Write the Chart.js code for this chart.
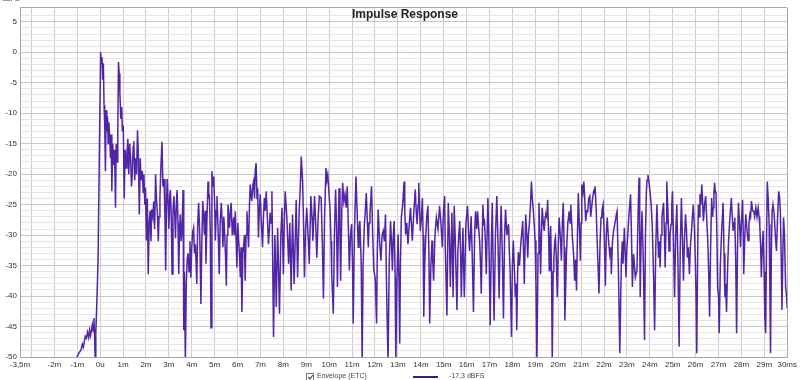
<!DOCTYPE html>
<html>
<head>
<meta charset="utf-8">
<title>Impulse Response</title>
<script src="https://cdn.jsdelivr.net/npm/chart.js@4.4.1/dist/chart.umd.min.js"></script>
<style>
  body { margin: 0; background: #fff; font-family: "Liberation Sans", Arial, sans-serif; }
  #wrap { position: relative; width: 800px; height: 380px; overflow: hidden; }
  #title { position: absolute; left: 352px; top: 7px; font-size: 12px; font-weight: bold; color: #222; }
  #unit { position: absolute; left: 2px; top: -5px; font-size: 7px; color: #444; }
  #legend { position: absolute; top: 372px; left: 0; width: 800px; height: 10px; font-size: 7px; color: #444; }
  #legend .box { position: absolute; left: 306px; top: 1px; width: 6px; height: 6px; border: 1px solid #777; background: #fff; }
  #legend .box::after { content: ""; position: absolute; left: 2px; top: 0px; width: 2px; height: 4px;
    border-right: 1px solid #333; border-bottom: 1px solid #333; transform: rotate(40deg); }
  #legend .lbl { position: absolute; left: 317px; top: 0; }
  #legend .swatch { position: absolute; left: 413px; top: 4px; width: 25px; height: 2px; background: #3c1a86; }
  #legend .val { position: absolute; left: 449px; top: 0; }
</style>
</head>
<body>
<div id="wrap">
  <canvas id="irChart" width="800" height="380"></canvas>
  <div id="title">Impulse Response</div>
  <div id="unit">dBFS</div>
  <div id="legend">
    <span class="box"></span><span class="lbl">Envelope (ETC)</span>
    <span class="swatch"></span><span class="val">-17,3 dBFS</span>
  </div>
</div>
<script>
// time in ms, level in dBFS
const preTimes = [-1.05, -1.01, -0.92, -0.84, -0.78, -0.74, -0.70, -0.65, -0.60, -0.55,
  -0.50, -0.46, -0.42, -0.38, -0.34, -0.30, -0.27, -0.24, -0.22, -0.19,
  -0.16, -0.12, -0.09];
const preLevels = [-51, -50, -49.3, -48.9, -47.9, -48.4, -47.7, -46.6, -46.9, -45.9,
  -46.8, -45.6, -46.5, -45.6, -44.7, -45.8, -43.6, -47, -50, -46,
  -42.8, -38, -33.7];

const earlyTimes = [0.02, 0.05, 0.08, 0.11, 0.14, 0.17, 0.20, 0.23, 0.26, 0.29,
  0.32, 0.35, 0.38, 0.42, 0.45, 0.48, 0.51, 0.55, 0.59, 0.63,
  0.67, 0.70, 0.74, 0.77, 0.80, 0.83, 0.86, 0.90, 0.94, 0.97,
  1.01, 1.05, 1.09, 1.13, 1.17, 1.21, 1.25, 1.29, 1.33, 1.37,
  1.40, 1.44, 1.47, 1.51, 1.55, 1.59, 1.63, 1.67, 1.71, 1.75,
  1.79, 1.84, 1.88, 1.91, 1.95, 1.98, 2.02, 2.06, 2.10, 2.14,
  2.18, 2.22, 2.25, 2.30, 2.34, 2.38, 2.42, 2.46, 2.50, 2.54,
  2.57, 2.61, 2.65, 2.70, 2.74, 2.79, 2.83, 2.86, 2.90, 2.93,
  2.97, 3.00, 3.04, 3.07, 3.11, 3.14, 3.18, 3.22, 3.26, 3.29,
  3.33, 3.36, 3.40, 3.43, 3.47, 3.50, 3.54, 3.58, 3.62, 3.65,
  3.68, 3.72, 3.76, 3.80, 3.84, 3.88, 3.92, 3.96, 4.00, 4.04];
const earlyLevels = [0, -1.8, -0.8, -4.5, -1.8, -8.7, -12, -19.5, -9.5, -13,
  -10.5, -15, -11.5, -14, -17.4, -13.5, -22.8, -15, -18.5, -16,
  -25.5, -15, -18, -13, -1.6, -3.5, -6.5, -10.9, -9, -13,
  -12, -24, -16, -19, -16.5, -14.2, -20, -15, -17.4, -22,
  -20.3, -15.5, -14.6, -21, -17.4, -20, -12.8, -17, -26.6, -17.4,
  -21, -19.5, -23, -20, -25, -22.2, -30.9, -24, -36.4, -28,
  -26, -31, -25.8, -27, -24.5, -29, -20, -24, -26.5, -31,
  -27, -24, -19, -14.7, -22, -20.8, -27, -35.8, -24, -20.8,
  -25, -29, -23.5, -22.6, -28, -36.4, -26, -23.6, -27, -30.5,
  -24.5, -22.6, -28, -36.4, -29, -26.6, -31, -28.7, -22.6, -45.6,
  -36, -51, -38, -34, -33, -36, -31, -37, -32, -29.5];

const midTimes = [4.08, 4.12, 4.16, 4.22, 4.26, 4.30, 4.35, 4.40, 4.44, 4.48,
  4.52, 4.55, 4.59, 4.62, 4.66, 4.71, 4.74, 4.77, 4.81, 4.84,
  4.88, 4.92, 4.96, 5.00, 5.03, 5.07, 5.10, 5.15, 5.20, 5.24,
  5.29, 5.33, 5.36, 5.40, 5.43, 5.47, 5.51, 5.54, 5.58, 5.62,
  5.65, 5.69, 5.72, 5.77, 5.83, 5.86, 5.90, 5.94, 5.97, 6.01,
  6.04, 6.08, 6.12, 6.15, 6.19, 6.23, 6.26, 6.30, 6.33, 6.37,
  6.41, 6.44, 6.48, 6.52, 6.55, 6.59, 6.62, 6.66, 6.70, 6.74,
  6.77, 6.81, 6.85, 6.88, 6.91, 6.95, 6.99, 7.04, 7.09, 7.13,
  7.17, 7.21, 7.25, 7.30, 7.35, 7.39, 7.42, 7.46];
const midLevels = [-28.8, -33, -31.5, -38, -28, -24.7, -30, -41.3, -31, -24.4,
  -27, -29.9, -26, -34.7, -28, -21.2, -24, -23.3, -30, -45.2,
  -19.5, -22, -20.4, -25, -30.9, -26, -23.6, -29, -36.4, -28,
  -24.7, -28, -32, -27, -29.3, -33, -38.3, -30, -25, -27,
  -28.8, -26, -24.7, -30, -27.1, -30, -26.1, -31, -35.3, -28,
  -30.4, -33, -36.9, -32, -42.6, -33, -32, -30, -37.5, -30,
  -26.1, -29, -32, -25, -21.7, -23.5, -24.4, -22, -21.2, -24,
  -19.5, -18.2, -24, -22.3, -30.4, -26, -23.3, -28, -32, -27,
  -23.9, -26, -22.8, -27, -31.5, -29, -26.3, -28];

const lateTimes = [7.50, 7.57, 7.63, 7.69, 7.75, 7.83, 7.89, 7.94, 8.00, 8.04,
  8.08, 8.15, 8.23, 8.28, 8.34, 8.40, 8.47, 8.56, 8.62, 8.69,
  8.74, 8.78, 8.84, 8.88, 8.92, 8.97, 9.02, 9.08, 9.13, 9.20,
  9.25, 9.29, 9.36, 9.41, 9.46, 9.52, 9.57, 9.65, 9.70, 9.75,
  9.80, 9.86, 9.90, 9.94, 9.99, 10.04, 10.08, 10.11, 10.18, 10.23,
  10.28, 10.32, 10.36, 10.43, 10.47, 10.50, 10.55, 10.59, 10.64, 10.69,
  10.74, 10.79, 10.84, 10.88, 10.93, 10.98, 11.02, 11.05, 11.10, 11.17,
  11.22, 11.27, 11.30, 11.34, 11.40, 11.44, 11.48, 11.53, 11.58, 11.62,
  11.66, 11.71, 11.74, 11.78, 11.82, 11.85, 11.90, 11.95, 12.01, 12.07,
  12.10, 12.14, 12.20, 12.26, 12.31, 12.36, 12.41, 12.46, 12.50, 12.57,
  12.62, 12.68, 12.72, 12.76, 12.80, 12.84, 12.88, 12.91, 12.96, 13.01,
  13.05, 13.08, 13.11, 13.15, 13.21, 13.27, 13.30, 13.34, 13.39, 13.44,
  13.50, 13.55, 13.59, 13.63, 13.70, 13.76, 13.80, 13.84, 13.88, 13.91,
  13.95, 13.98, 14.03, 14.07, 14.10, 14.13, 14.17, 14.21, 14.26, 14.31,
  14.35, 14.39, 14.44, 14.49, 14.52, 14.56, 14.62, 14.68, 14.75, 14.82,
  14.88, 14.94, 14.99];
const lateLevels = [-22.8, -46.7, -30, -41.8, -28.8, -42.9, -30, -25.5, -36.4, -28,
  -22.8, -27, -34.7, -28, -39.1, -26.6, -38, -24.2, -36.9, -26.1,
  -22, -17.1, -21.2, -28, -36.9, -29, -25.5, -30, -34.7, -23.6,
  -27, -30.9, -23.6, -28, -33.7, -27, -23.6, -23.9, -31, -40.4,
  -27, -19, -21, -20.1, -23, -26.1, -31, -36.4, -42.9, -30,
  -22.5, -28, -38.5, -22.3, -30, -37.5, -26, -21.4, -24.5, -23.3,
  -25.5, -22, -29, -35.8, -30, -28.2, -35, -44.5, -30, -20.4,
  -26, -32, -29, -27.7, -35, -51, -35, -28.8, -26, -23.1,
  -27, -32, -28, -26.6, -24, -22, -30, -35.8, -37, -44.5,
  -33, -25.8, -31, -34.2, -30, -29.3, -31, -26.6, -37.5, -51,
  -35, -27.7, -31, -35.8, -30, -27.7, -37, -51, -37, -29.9,
  -38, -47.8, -35, -27.1, -25, -21.2, -26, -29.9, -28, -31.5,
  -28, -25.5, -28, -30.9, -26, -22.5, -26, -28.2, -25, -21.4,
  -26, -29.3, -27, -23.9, -30, -43.4, -35, -30.9, -27, -25.2,
  -32, -44.5, -35, -30.9, -34, -37.5, -30, -27.1, -29, -25.2,
  -28, -32, -26];

const tailTimes = [15.04, 15.07, 15.14, 15.20, 15.25, 15.29, 15.36, 15.41, 15.46, 15.50,
  15.54, 15.58, 15.62, 15.66, 15.70, 15.74, 15.77, 15.84, 15.90, 15.97,
  16.04, 16.09, 16.13, 16.20, 16.25, 16.30, 16.35, 16.39, 16.44, 16.48,
  16.53, 16.57, 16.61, 16.64, 16.71, 16.75, 16.78, 16.82, 16.86, 16.93,
  16.98, 17.03, 17.08, 17.12, 17.16, 17.20, 17.26, 17.32, 17.37, 17.42,
  17.47, 17.51, 17.56, 17.61, 17.66, 17.70, 17.76, 17.83, 17.87, 17.90,
  17.96, 18.00, 18.04, 18.09, 18.13, 18.16, 18.19, 18.23, 18.26, 18.31,
  18.36, 18.40, 18.45, 18.49, 18.52, 18.58, 18.63, 18.67, 18.70, 18.74,
  18.79, 18.83, 18.87, 18.91, 18.95, 18.99, 19.03, 19.07, 19.12, 19.16,
  19.20, 19.23, 19.27, 19.30, 19.35, 19.39, 19.43, 19.46, 19.50, 19.54,
  19.58, 19.61, 19.64, 19.67, 19.71, 19.74, 19.78, 19.81, 19.85, 19.88,
  19.92, 19.96, 20.00, 20.04, 20.09, 20.14, 20.18, 20.22, 20.26, 20.29,
  20.33, 20.36, 20.42, 20.48, 20.52, 20.55, 20.59, 20.62, 20.67, 20.72,
  20.76, 20.80, 20.84, 20.88, 20.92, 20.97, 21.00, 21.03, 21.08, 21.12,
  21.16, 21.20, 21.25, 21.29, 21.33, 21.38, 21.42, 21.46, 21.50, 21.55,
  21.58, 21.61, 21.66, 21.70, 21.74, 21.78, 21.83, 21.87, 21.91, 21.96,
  22.01, 22.06, 22.10, 22.14, 22.20, 22.25, 22.29, 22.32, 22.37, 22.42,
  22.48, 22.54];
const tailLevels = [-23.6, -32, -43.2, -24.7, -30, -38.5, -26.3, -40.2, -25.2, -30,
  -36.4, -42.3, -32.6, -30, -27.7, -33, -40.2, -28.8, -40.2, -28.2,
  -25.2, -30, -32.6, -26.9, -34, -42.6, -30, -26.1, -29, -26.1,
  -29, -30.9, -35, -39.6, -25, -28, -27.7, -31, -36.4, -23.9,
  -32, -44.8, -32, -24.7, -35, -44, -30, -23.6, -31, -40.4,
  -30, -25.2, -33, -43.7, -30, -25.8, -30, -28.2, -33, -35.8,
  -46.7, -35, -30.9, -36, -40.2, -38, -45.6, -36, -32.8, -35,
  -31.8, -30, -27.7, -33, -38, -26.6, -30, -33.7, -30, -28.2,
  -25, -21.2, -24, -25.8, -28, -30.9, -38, -51, -33, -24.7,
  -30, -36.4, -30, -25.5, -28, -29.3, -27, -26.6, -27, -24.2,
  -30, -35.8, -31, -28.5, -36, -51, -36, -33.7, -31, -30.4,
  -34, -40.2, -32, -27.1, -30, -34.2, -28, -24.7, -32, -44,
  -38, -33.1, -28, -26.1, -28, -25, -28, -30.4, -33, -37.5,
  -34, -39.1, -30, -23.1, -28, -34.2, -28, -21.7, -23, -21.2,
  -24, -27.7, -26, -26.1, -24, -23.6, -27, -25.5, -24, -22.8,
  -23, -22, -26, -30.9, -35, -39.6, -31, -27.1, -26, -25,
  -30, -38.3, -30, -27.1, -31, -33.1, -32, -36.4, -31, -29.3,
  -28, -26.6];

const endTimes = [22.57, 22.63, 22.69, 22.73, 22.76, 22.80, 22.83, 22.89, 22.96, 23.00,
  23.03, 23.09, 23.16, 23.20, 23.24, 23.29, 23.33, 23.37, 23.44, 23.49,
  23.53, 23.56, 23.58, 23.62, 23.66, 23.72, 23.77, 23.81, 23.85, 23.88,
  23.92, 23.97, 24.02, 24.06, 24.11, 24.16, 24.21, 24.26, 24.31, 24.35,
  24.38, 24.42, 24.45, 24.49, 24.53, 24.56, 24.60, 24.64, 24.67, 24.71,
  24.74, 24.79, 24.84, 24.88, 24.93, 24.96, 24.99, 25.04, 25.08, 25.13,
  25.18, 25.23, 25.28, 25.33, 25.38, 25.42, 25.47, 25.51, 25.56, 25.60,
  25.64, 25.68, 25.73, 25.77, 25.82, 25.86, 25.90, 25.95, 25.99, 26.02,
  26.05, 26.09, 26.12, 26.16, 26.19, 26.23, 26.27, 26.30, 26.34, 26.39,
  26.44, 26.48, 26.53, 26.57, 26.61, 26.65, 26.70, 26.74, 26.77, 26.80,
  26.83, 26.86, 26.89, 26.93, 26.96, 27.00, 27.03, 27.08, 27.13, 27.17,
  27.20, 27.24, 27.28, 27.31, 27.35, 27.40, 27.44, 27.50, 27.56, 27.60,
  27.64, 27.68, 27.71, 27.75, 27.79, 27.83, 27.87, 27.92, 27.96, 28.00,
  28.05, 28.08, 28.10, 28.15, 28.19, 28.24, 28.29, 28.33, 28.37, 28.40,
  28.44, 28.49, 28.54, 28.58, 28.63, 28.68, 28.73, 28.77, 28.80, 28.84,
  28.87, 28.91, 28.95, 28.99, 29.02, 29.06, 29.10, 29.13, 29.17, 29.21,
  29.24, 29.27, 29.31, 29.34, 29.38, 29.43, 29.48, 29.53, 29.58, 29.63,
  29.67, 29.70, 29.74, 29.77, 29.81, 29.84, 29.88, 29.93, 29.97, 30.00];
const endLevels = [-26.1, -36, -49.4, -40, -34.2, -31, -34.7, -28.8, -36.9, -32,
  -30.4, -26.6, -23.3, -30, -38.5, -33.1, -35, -36.9, -35.8, -26,
  -20.6, -30, -40.2, -31, -26.1, -35, -47.2, -30, -22.8, -21,
  -20.1, -21.5, -23.3, -25, -28.8, -36, -45.6, -32, -25, -30,
  -33.7, -31, -35.3, -30, -27.1, -26, -24.7, -30, -35.3, -28,
  -21.2, -26, -32.6, -30, -28.2, -25, -22.8, -32, -40.2, -30,
  -25, -35, -48.3, -32, -23.9, -30, -37.5, -31, -26.6, -29,
  -33.7, -32, -36.4, -32, -29.3, -27, -25, -29, -34.7, -40,
  -49.4, -33, -25, -27, -23.3, -25, -21.7, -24, -27.7, -25,
  -23.6, -27, -30.9, -36, -43.4, -33, -23.9, -27, -25.5, -23,
  -21.4, -23, -22.8, -30, -38.5, -40, -46.1, -35, -29.9, -27,
  -24.7, -33, -40.2, -38, -42.6, -35, -30.9, -27, -23.9, -27,
  -29.3, -28, -27.1, -34, -46.1, -32, -24.7, -28, -32, -28,
  -24.2, -30, -36.4, -30, -26.6, -29, -30.9, -28, -26.6, -27,
  -24.4, -26, -26.1, -27, -25.5, -27, -25.5, -27, -28.2, -32,
  -36.9, -32, -29.3, -36, -43.4, -46.1, -30, -21.2, -24, -28.2,
  -38, -49.4, -32, -26.1, -25, -26.6, -30, -32.6, -27, -22.8,
  -24, -26.1, -34, -42.3, -33, -27.1, -30, -38.5, -40, -42];

const xTickValues = [-3.5, -3, -2, -1, 0, 1, 2, 3, 4, 5, 6, 7, 8, 9, 10, 11, 12, 13, 14, 15,
  16, 17, 18, 19, 20, 21, 22, 23, 24, 25, 26, 27, 28, 29, 30];
const xTickLabels = ["-3,5m", "", "-2m", "-1m", "0u", "1m", "2m", "3m", "4m", "5m", "6m", "7m", "8m", "9m",
  "10m", "11m", "12m", "13m", "14m", "15m", "16m", "17m", "18m", "19m", "20m", "21m", "22m",
  "23m", "24m", "25m", "26m", "27m", "28m", "29m", "30ms"];

const times = [].concat(preTimes, earlyTimes, midTimes, lateTimes, tailTimes, endTimes);
const levels = [].concat(preLevels, earlyLevels, midLevels, lateLevels, tailLevels, endLevels);
const points = times.map((t, i) => ({ x: t, y: levels[i] }));

const tickFont = { family: "'Liberation Sans', Arial, sans-serif", size: 8 };

new Chart(document.getElementById("irChart"), {
  type: "line",
  data: {
    datasets: [{
      label: "Envelope (ETC)",
      data: points,
      borderColor: "#5224a6",
      borderWidth: 1.5,
      pointRadius: 0,
      tension: 0,
      fill: false
    }]
  },
  options: {
    responsive: false,
    animation: false,
    layout: { padding: { top: 5, right: 10, left: 0, bottom: 0 } },
    plugins: { legend: { display: false }, title: { display: false }, tooltip: { enabled: false } },
    scales: {
      x: {
        type: "linear",
        min: -3.5,
        max: 30,
        afterBuildTicks: (s) => { s.ticks = xTickValues.map((v) => ({ value: v })); },
        afterFit: (s) => { s.height = 23; },
        ticks: {
          autoSkip: false,
          maxRotation: 0,
          padding: 3,
          color: "#333",
          font: tickFont,
          callback: (v) => xTickLabels[xTickValues.indexOf(v)]
        },
        grid: {
          drawTicks: false,
          color: (c) => (c.tick && (c.tick.value === -3.5 || c.tick.value === 30)) ? "#a8a8a8" : "#cdcdcd"
        },
        border: { display: true, color: "#a8a8a8" }
      },
      y: {
        min: -50,
        max: 7.3,
        afterFit: (s) => { s.width = 20; },
        ticks: {
          stepSize: 1,
          autoSkip: false,
          padding: 3,
          color: "#333",
          font: tickFont,
          callback: (v) => (Number.isInteger(v) && v % 5 === 0) ? String(v) : ""
        },
        grid: {
          drawTicks: false,
          color: (c) => {
            const v = c.tick ? c.tick.value : 0;
            if (v === 7.3 || v === -50) return "#a8a8a8";
            return v % 5 === 0 ? "#c6c6c6" : "#e6e6e6";
          }
        },
        border: { display: true, color: "#a8a8a8" }
      }
    }
  }
});
</script>
</body>
</html>
